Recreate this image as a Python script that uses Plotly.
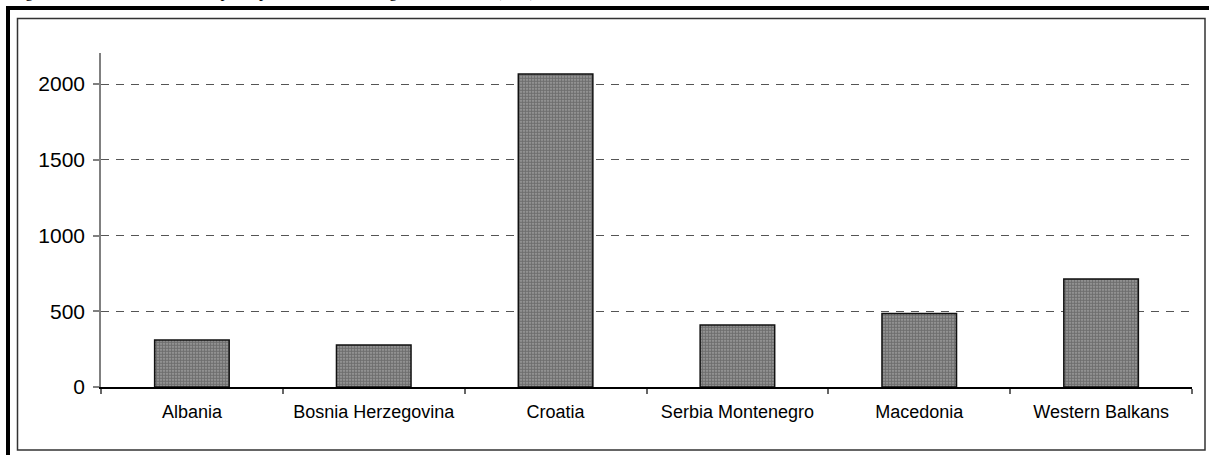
import plotly.graph_objects as go

# ---- data ----
countries = ["Albania", "Bosnia Herzegovina", "Croatia", "Serbia Montenegro", "Macedonia", "Western Balkans"]
values = [310, 277, 2066, 409, 486, 713]
y_ticks = [0, 500, 1000, 1500, 2000]
caption = "Figure 6: Cumulative FDI stock per capita 1993-2003 in regional countries (US$)."

# ---- layout geometry (pixels) ----
W, H = 1209, 455
L, R, T, B = 101, 1192, 53, 387


def px(x):
    return (x - L) / (R - L)


def py(y):
    return (B - y) / (B - T)


fig = go.Figure(
    go.Bar(
        x=countries,
        y=values,
        width=0.41,
        marker=dict(
            color="#7a7a7a",
            line=dict(color="#111111", width=1.5),
            pattern=dict(shape=".", size=3, solidity=0.7,
                         fgcolor="#333333", bgcolor="#a8a8a8"),
        ),
        hoverinfo="x+y",
    )
)

fig.update_layout(
    width=W,
    height=H,
    margin=dict(l=L, r=W - R, t=T, b=H - B, pad=0),
    paper_bgcolor="white",
    plot_bgcolor="white",
    showlegend=False,
    font=dict(family="Liberation Sans, Arial, sans-serif", color="black"),
    bargap=0.59,
)

fig.update_yaxes(
    range=[0, 2205],
    tickvals=y_ticks,
    ticktext=[str(v) for v in y_ticks],
    showgrid=True,
    gridcolor="#555555",
    gridwidth=1,
    griddash="8px,7px",
    zeroline=False,
    showline=True,
    linecolor="#808080",
    linewidth=1.5,
    ticks="outside",
    ticklen=6,
    tickwidth=1.5,
    tickcolor="#808080",
    tickfont=dict(size=21),
    ticklabelstandoff=4,
)

fig.update_xaxes(
    showgrid=False,
    showline=True,
    linecolor="black",
    linewidth=1.5,
    ticks="outside",
    tickson="boundaries",
    ticklen=5,
    tickwidth=1.5,
    tickcolor="#666666",
    tickfont=dict(size=18),
    ticklabelstandoff=8,
)

# frame borders
fig.add_shape(type="rect", xref="paper", yref="paper",
              x0=px(8), x1=px(1400), y0=py(8), y1=py(700),
              line=dict(color="black", width=4), layer="above")
fig.add_shape(type="rect", xref="paper", yref="paper",
              x0=px(17.5), x1=px(1205), y0=py(18.5), y1=py(450),
              line=dict(color="#333333", width=1.5), layer="above")

# partially visible caption above the frame (cut off in the original too)
fig.add_annotation(
    text=caption, xref="paper", yref="paper",
    x=px(10), y=py(3.5), xanchor="left", yanchor="bottom",
    showarrow=False,
    font=dict(family="Liberation Serif, Times New Roman, serif", size=16, color="black"),
)

fig.write_html(
    "out.html",
    config={"displayModeBar": False},
    post_script="document.body.style.margin='0';document.body.style.overflow='hidden';",
)
